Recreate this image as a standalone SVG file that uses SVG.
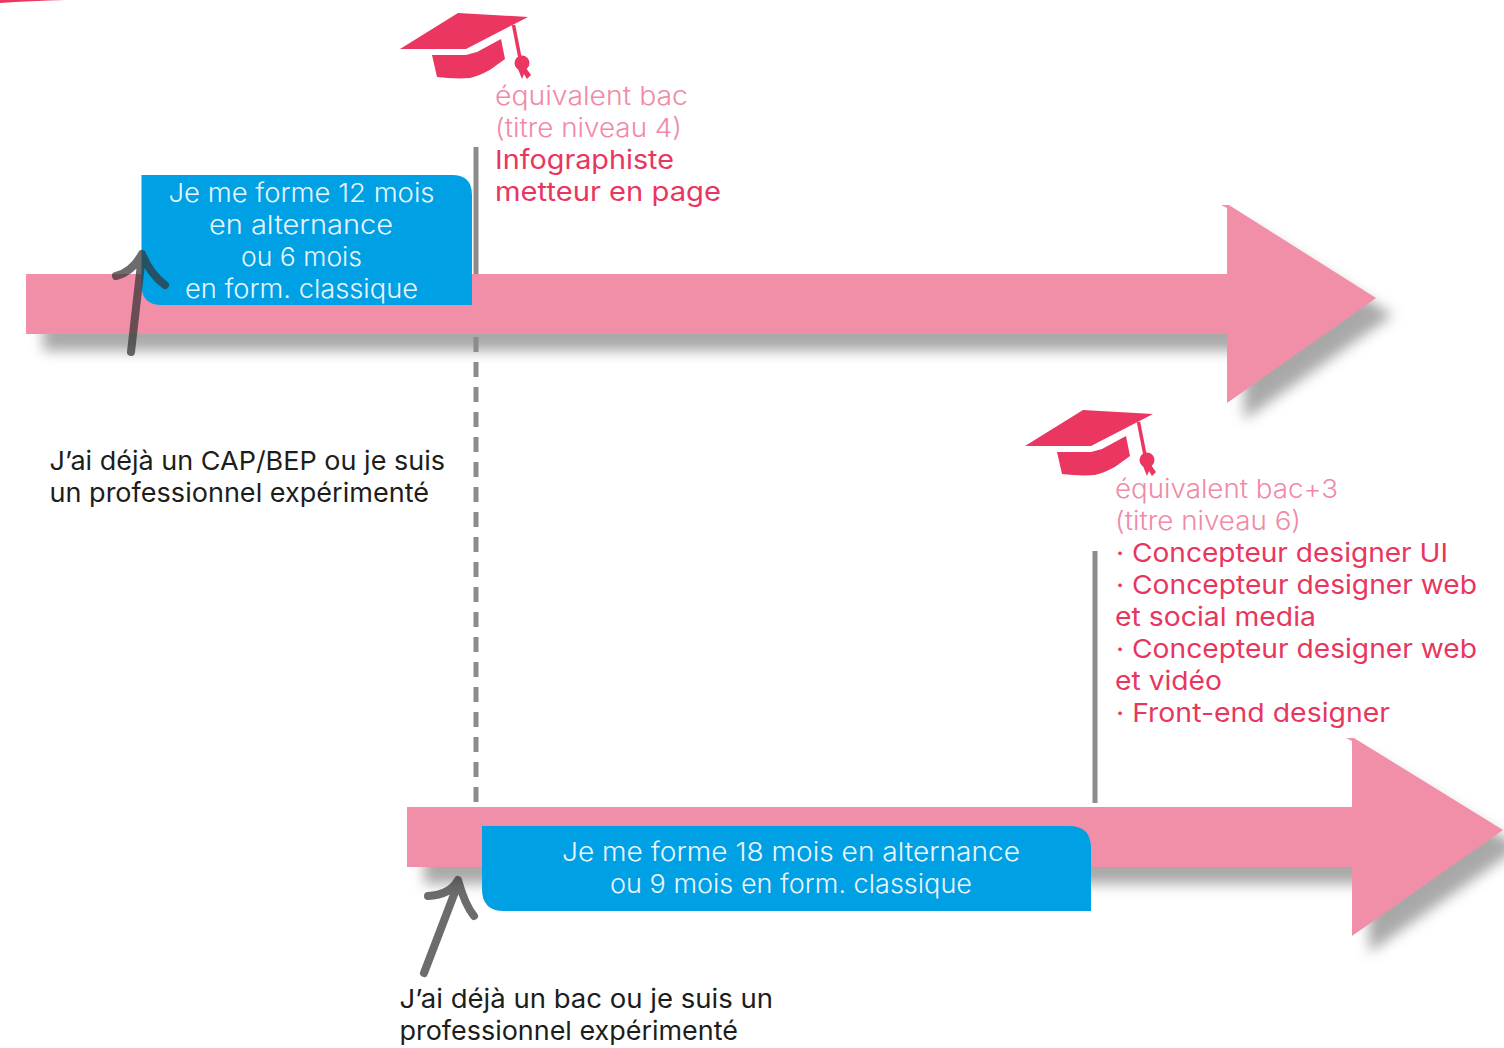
<svg xmlns="http://www.w3.org/2000/svg" width="1504" height="1048" viewBox="0 0 1504 1048">
<defs>
<style>
text{font-family:"Inter","Noto Sans","Liberation Sans",sans-serif;font-size:26px}
.lt{fill:#f08aa6;font-weight:300}
.rd{fill:#e9365f}
.bk{fill:#1d1d1b}
.wh{fill:#eaf6fd;font-weight:300}
.bar{fill:#f28fa8}
.box{fill:#00a0e4}
.cap{fill:#ea3660}
.v{stroke:#8c8c8c;stroke-width:5;fill:none}
.hand{stroke:#333;stroke-opacity:.72;stroke-width:8;fill:none;stroke-linecap:round;stroke-linejoin:round}
</style>
<filter id="sh" x="-5%" y="-20%" width="110%" height="140%">
<feGaussianBlur stdDeviation="6.500"/>
</filter>
<g id="capShape">
<path class="cap" d="M458 13 528 17 466 49H400Z"/>
<path class="cap" d="M432 55H466L477 52 501 39 505 59C495 66 487 74 470 78 458 79 447 78 437 77Z"/>
<path d="M513.500 25 520 58" stroke="#ea3660" stroke-width="3.500" fill="none"/>
<circle class="cap" cx="522" cy="63" r="7.500"/>
<path class="cap" d="M518 69 522 79 524 74 527 79 531 75 526 68Z"/>
</g>
</defs>
<path class="cap" d="M0 3 0 0H66Q30 1 0 3Z"/>
<g id="connectors">
<path d="M43 291H1244V223L1393 315 1244 420V351H43Z" fill="#8c8c8c" opacity=".75" filter="url(#sh)"/>
<path d="M424 824H1369V756L1520 847 1369 953V884H424Z" fill="#8c8c8c" opacity=".75" filter="url(#sh)"/>
<path class="v" d="M476 147V275"/>
<path class="v" d="M476 337V804" stroke-dasharray="15 10"/>
<path class="v" d="M1095 551V803"/>
</g>
<g id="arrow-1"><path class="bar" d="M26 274H1227V208L1221 205H1229L1376 298 1227 403V334H26Z"/></g>
<g id="arrow-2"><path class="bar" d="M407 807H1352V741L1346 738H1354L1503 830 1352 936V867H407Z"/></g>
<g id="box-1">
<path class="box" d="M141.500 175H452Q472 175 472 195V305H161.500Q141.500 305 141.500 285Z"/>
<text class="wh" x="168.500" y="202" textLength="266" lengthAdjust="spacingAndGlyphs">Je me forme 12 mois</text>
<text class="wh" x="209" y="234" textLength="184" lengthAdjust="spacingAndGlyphs">en alternance</text>
<text class="wh" x="241" y="266" textLength="121" lengthAdjust="spacingAndGlyphs">ou 6 mois</text>
<text class="wh" x="185" y="298" textLength="233" lengthAdjust="spacingAndGlyphs">en form. classique</text>
</g>
<g id="box-2">
<path class="box" d="M482 826H1069Q1091 826 1091 848V911H504Q482 911 482 889Z"/>
<text class="wh" x="562" y="861" textLength="458" lengthAdjust="spacingAndGlyphs">Je me forme 18 mois en alternance</text>
<text class="wh" x="610" y="893" textLength="362" lengthAdjust="spacingAndGlyphs">ou 9 mois en form. classique</text>
</g>
<g id="hand-arrow-1"><path class="hand" d="M131 352 142 255M116 276Q132 272 142 254 150 274 165 285"/></g>
<g id="hand-arrow-2"><path class="hand" d="M424 973 458 884M428 896Q450 895 458 880 465 905 474 916"/></g>
<g id="degree-1">
<use href="#capShape"/>
<text class="lt" x="495" y="105" textLength="193" lengthAdjust="spacingAndGlyphs">équivalent bac</text>
<text class="lt" x="495" y="137" textLength="187" lengthAdjust="spacingAndGlyphs">(titre niveau 4)</text>
<text class="rd" x="495" y="169" textLength="179" lengthAdjust="spacingAndGlyphs">Infographiste</text>
<text class="rd" x="495" y="201" textLength="226" lengthAdjust="spacingAndGlyphs">metteur en page</text>
</g>
<g id="degree-2">
<use href="#capShape" x="625" y="397"/>
<text class="lt" x="1115" y="498" textLength="223" lengthAdjust="spacingAndGlyphs">équivalent bac+3</text>
<text class="lt" x="1115" y="530" textLength="186" lengthAdjust="spacingAndGlyphs">(titre niveau 6)</text>
<text class="rd" x="1116" y="562" textLength="332" lengthAdjust="spacingAndGlyphs">· Concepteur designer UI</text>
<text class="rd" x="1116" y="594" textLength="361" lengthAdjust="spacingAndGlyphs">· Concepteur designer web</text>
<text class="rd" x="1115" y="626" textLength="201" lengthAdjust="spacingAndGlyphs">et social media</text>
<text class="rd" x="1116" y="658" textLength="361" lengthAdjust="spacingAndGlyphs">· Concepteur designer web</text>
<text class="rd" x="1115" y="690" textLength="107" lengthAdjust="spacingAndGlyphs">et vidéo</text>
<text class="rd" x="1116" y="722" textLength="274" lengthAdjust="spacingAndGlyphs">· Front-end designer</text>
</g>
<g id="note-1">
<text class="bk" x="49.500" y="470" textLength="395.500" lengthAdjust="spacingAndGlyphs">J’ai déjà un CAP/BEP ou je suis</text>
<text class="bk" x="49.500" y="502" textLength="379.500" lengthAdjust="spacingAndGlyphs">un professionnel expérimenté</text>
</g>
<g id="note-2">
<text class="bk" x="399.500" y="1008" textLength="373.500" lengthAdjust="spacingAndGlyphs">J’ai déjà un bac ou je suis un</text>
<text class="bk" x="399.500" y="1040" textLength="338.500" lengthAdjust="spacingAndGlyphs">professionnel expérimenté</text>
</g>
</svg>
